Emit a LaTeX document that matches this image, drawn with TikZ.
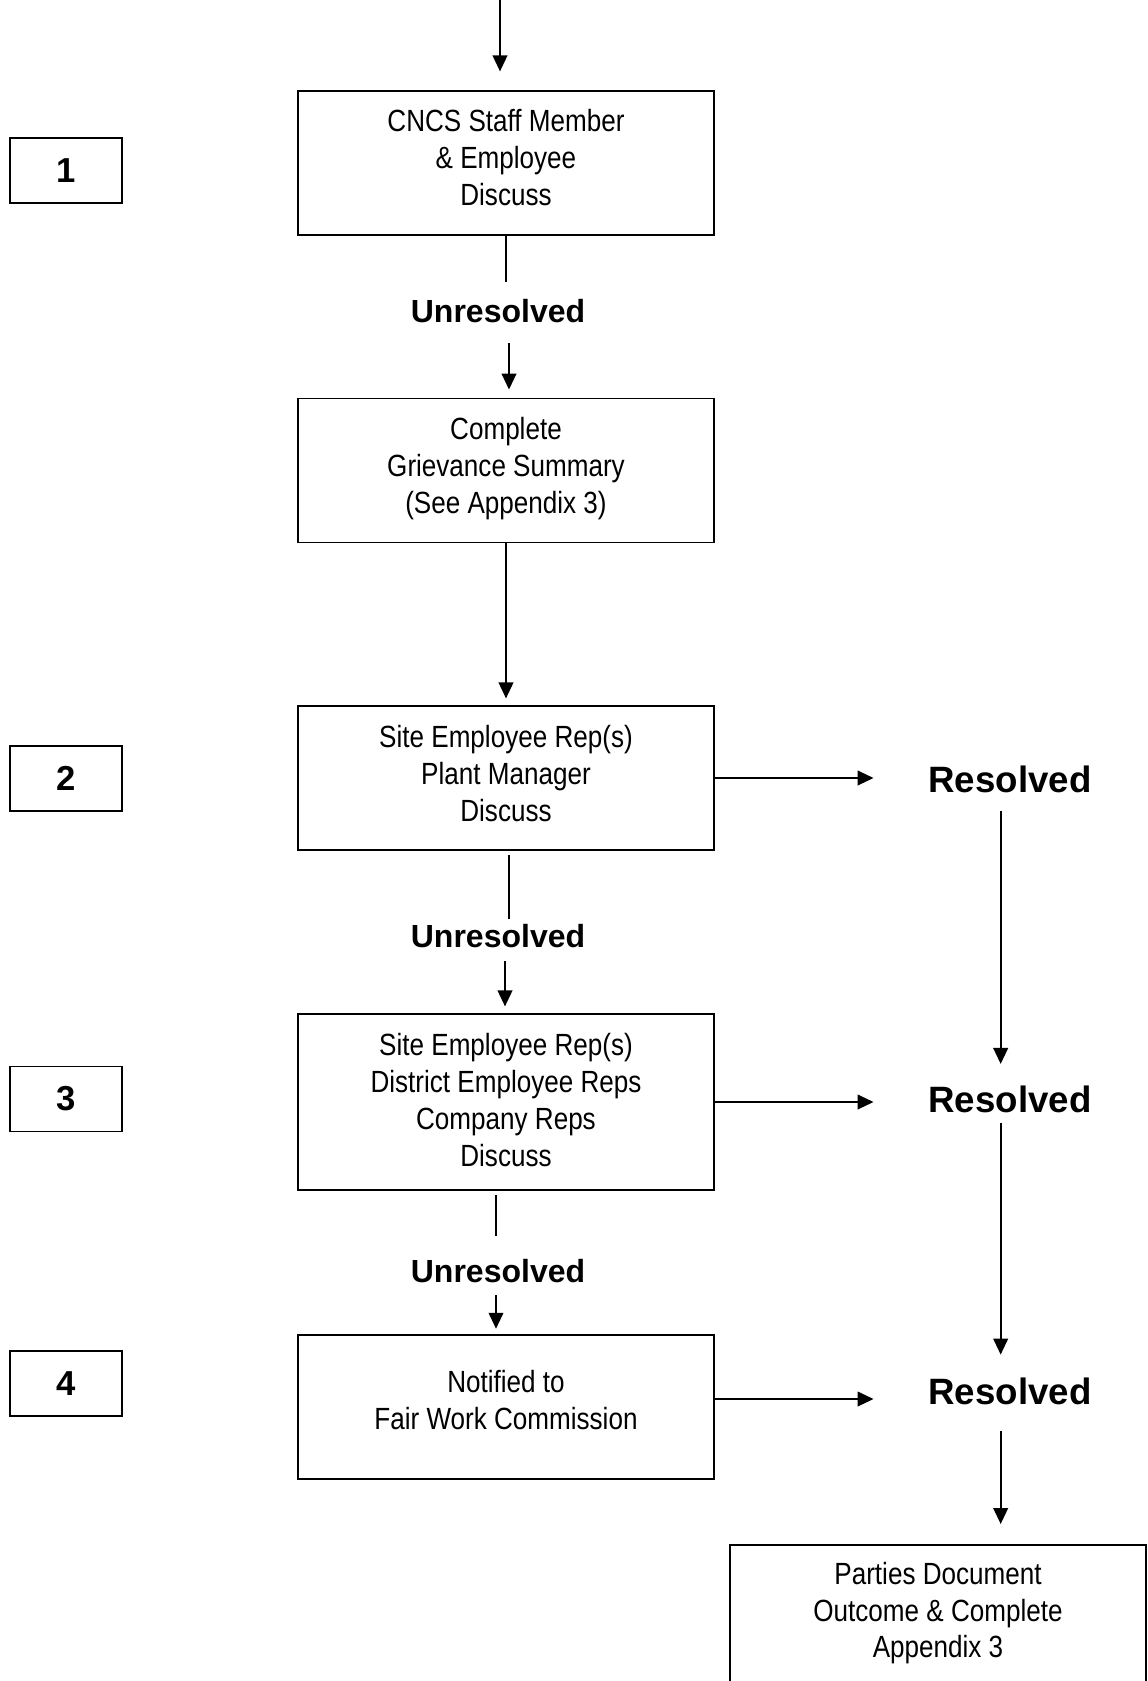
\documentclass[tikz,border=0pt]{standalone}
\usepackage{fontspec}
\setmainfont{Liberation Sans}
\newfontfamily\narrowfont{Liberation Sans}[FakeStretch=0.85]
\usetikzlibrary{arrows.meta,positioning}

\begin{document}
\begin{tikzpicture}
[x=0.75pt,y=-0.75pt,
 stage/.style={draw=black,line width=1.4pt,minimum width=312pt,minimum height=108pt,inner sep=0pt,align=center,font=\narrowfont\fontsize{23}{27.6}\selectfont},
 level/.style={draw=black,line width=1.4pt,minimum width=84pt,minimum height=48.75pt,inner sep=0pt,font=\fontsize{26}{30}\bfseries},
 unres/.style={inner sep=0pt,font=\fontsize{24}{28}\bfseries},
 res/.style={inner sep=0pt,font=\fontsize{27.5}{33}\bfseries},
 arr/.style={-{Triangle[length=12pt,width=11pt]},line width=1.4pt},
 ln/.style={line width=1.4pt}]
\useasboundingbox (0,0) rectangle (1148,1681);

% level numbers
\node[level] (n1) at (66,170.5) {1};
\node[level] (n2) at (66,778.5) {2};
\node[level] (n3) at (66,1099) {3};
\node[level] (n4) at (66,1383.5) {4};

% main steps
\node[stage,text depth=8pt] (b1) at (506,163) {CNCS Staff Member\\\& Employee\\Discuss};
\node[stage,text depth=7.5pt] (b2) at (506,470.5) {Complete\\Grievance Summary\\(See Appendix 3)};
\node[stage,text depth=7pt] (b3) at (506,778) {Site Employee Rep(s)\\Plant Manager\\Discuss};
\node[stage,text depth=3pt,minimum height=132pt] (b4) at (506,1102) {Site Employee Rep(s)\\District Employee Reps\\Company Reps\\Discuss};
\node[stage,text depth=11pt] (b5) at (506,1407) {Notified to\\Fair Work Commission};
\node[stage,text depth=10.5pt,anchor=north] (fin) at (938,1544) {Parties Document\\Outcome \& Complete\\Appendix 3};

\node[unres] (u1) at (498,311) {Unresolved};
\node[unres] (u2) at (498,936) {Unresolved};
\node[unres] (u3) at (498,1271) {Unresolved};

\node[res] (r1) at (1010,779) {Resolved};
\node[res] (r2) at (1010,1099) {Resolved};
\node[res] (r3) at (1010,1391) {Resolved};

\coordinate (top) at (500,0);
\coordinate (l1) at (506,282);
\coordinate (m1) at (509,343);
\coordinate (l2) at (509,919);
\coordinate (m2) at (505,961);
\coordinate (l3) at (496,1236);
\coordinate (m3) at (496,1295);

% down the left
\draw[arr,shorten >=14pt] (top) -- (top |- b1.north);
\draw[ln] (b1.south) -- (l1);
\draw[arr,shorten >=6pt] (m1) -- (m1 |- b2.north);
\draw[arr,shorten >=5pt] (b2.south) -- (b3.north);
\draw[ln] ([yshift=-3pt]l2 |- b3.south) -- (l2);
\draw[arr,shorten >=5pt] (m2) -- (m2 |- b4.north);
\draw[ln] ([yshift=-3pt]l3 |- b4.south) -- (l3);
\draw[arr,shorten >=4pt] (m3) -- (m3 |- b5.north);

% across to resolved
\draw[arr,shorten >=41pt] (b3.east) -- (b3.east -| r1.west);
\draw[arr,shorten >=41pt] (b4.east) -- (b4.east -| r2.west);
\draw[arr,shorten >=41pt] ([yshift=6pt]b5.east) -- ([yshift=6pt]b5.east -| r3.west);

% down the right
\draw[arr,shorten <=14pt,shorten >=16pt] ([xshift=-7pt]r1.south) -- ([xshift=-7pt]r2.north);
\draw[arr,shorten <=8pt,shorten >=17pt] ([xshift=-7pt]r2.south) -- ([xshift=-7pt]r3.north);
\draw[arr,shorten <=20pt,shorten >=15pt] ([xshift=-7pt]r3.south) -- ([xshift=-7pt]r3.south |- fin.north);
\end{tikzpicture}
\end{document}
